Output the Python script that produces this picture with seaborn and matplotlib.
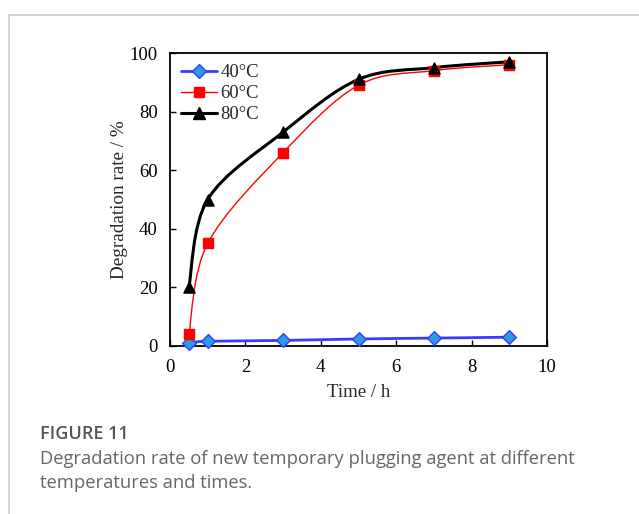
import numpy as np
import pandas as pd
import matplotlib
matplotlib.use("Agg")
import matplotlib.pyplot as plt
import seaborn as sns
from matplotlib.path import Path
from matplotlib.patches import PathPatch
from matplotlib.lines import Line2D

# ---- data ----
time_h = [0.5, 1, 3, 5, 7, 9]
rate_40 = [1.1, 1.6, 1.9, 2.4, 2.7, 3.0]
rate_60 = [4, 35, 66, 89, 94, 96]
rate_80 = [20, 50, 73, 91, 95, 97]
series_labels = ["40°C", "60°C", "80°C"]
x_ticks = [0, 2, 4, 6, 8, 10]
y_ticks = [0, 20, 40, 60, 80, 100]
caption_title = "FIGURE 11"
caption_text = "Degradation rate of new temporary plugging agent at different\ntemperatures and times."

sns.set_theme(style="white")
plt.rcParams["font.family"] = ["Liberation Serif", "DejaVu Serif"]

df = pd.DataFrame({
    "Time": time_h * 3,
    "Rate": rate_40 + rate_60 + rate_80,
    "Temp": sum([[l] * len(time_h) for l in series_labels], []),
})

fig = plt.figure(figsize=(6.39, 5.14), dpi=100)
ax = fig.add_axes([170 / 639, (514 - 346) / 514, (547 - 170) / 639, (346 - 53) / 514])

styles = {
    "40°C": dict(lc="#3a3aff", lw=2.0, marker="D", mfc="#2a9be0", mec="#3a3aff", ms=7),
    "60°C": dict(lc="#ff0000", lw=1.0, marker="s", mfc="#ff0000", mec="#ff0000", ms=7),
    "80°C": dict(lc="#000000", lw=2.2, marker="^", mfc="#000000", mec="#000000", ms=8),
}


def smooth_path(xs, ys):
    pts = np.column_stack([xs, ys]).astype(float)
    n = len(pts)
    verts = [pts[0]]
    codes = [Path.MOVETO]
    for i in range(n - 1):
        p0 = pts[i - 1] if i > 0 else pts[i]
        p1 = pts[i]
        p2 = pts[i + 1]
        p3 = pts[i + 2] if i + 2 < n else pts[i + 1]
        c1 = p1 + (p2 - p0) / 6.0
        c2 = p2 - (p3 - p1) / 6.0
        verts += [c1, c2, p2]
        codes += [Path.CURVE4] * 3
    return Path(verts, codes)


for lab, ys in zip(series_labels, [rate_40, rate_60, rate_80]):
    st = styles[lab]
    patch = PathPatch(smooth_path(time_h, ys), facecolor="none", edgecolor=st["lc"],
                      lw=st["lw"], zorder=2)
    ax.add_patch(patch)

for lab in series_labels:
    st = styles[lab]
    sub = df[df["Temp"] == lab]
    sns.scatterplot(data=sub, x="Time", y="Rate", marker=st["marker"], color=st["mfc"],
                    edgecolor=st["mec"], s=st["ms"] ** 2, linewidth=1.0, ax=ax, zorder=3,
                    legend=False, clip_on=False)

handles = [Line2D([0], [0], color=styles[l]["lc"], lw=styles[l]["lw"], marker=styles[l]["marker"],
                  markerfacecolor=styles[l]["mfc"], markeredgecolor=styles[l]["mec"],
                  markersize=styles[l]["ms"]) for l in series_labels]
ax.legend(handles, series_labels, loc="upper left", frameon=False, fontsize=13.5,
          handlelength=1.9, handletextpad=0.2, labelspacing=0.2,
          borderaxespad=0.2, bbox_to_anchor=(0.0, 1.0))

ax.set_xlim(0, 10)
ax.set_ylim(0, 100)
ax.set_xticks(x_ticks)
ax.set_yticks(y_ticks)
ax.tick_params(direction="in", length=4, width=1, labelsize=13.5, colors="black",
               bottom=True, left=True, top=False, right=False)
ax.tick_params(axis="x", pad=9)
ax.tick_params(axis="y", pad=9)
for s in ax.spines.values():
    s.set_color("black")
    s.set_linewidth(1.3)
ax.set_xlabel("Time / h", fontsize=13.5, labelpad=6)
ax.set_ylabel("Degradation rate / %", fontsize=13.8, labelpad=1)

# outer frame lines
fig.add_artist(Line2D([9 / 639, 1], [1 - 15 / 514, 1 - 15 / 514], color="#cccccc", lw=1.2,
                      transform=fig.transFigure))
fig.add_artist(Line2D([9 / 639, 9 / 639], [0, 1 - 15 / 514], color="#cccccc", lw=1.2,
                      transform=fig.transFigure))

fig.text(40 / 639, 1 - 434 / 514, caption_title, fontsize=13, color="#555555",
         family=["Open Sans", "DejaVu Sans"], fontweight="semibold", va="center")
fig.text(40 / 639, 1 - 471 / 514, caption_text, fontsize=13.2, color="#666666",
         family=["Open Sans", "DejaVu Sans"], va="center", linespacing=1.4)

fig.savefig("out.png", dpi=100)
